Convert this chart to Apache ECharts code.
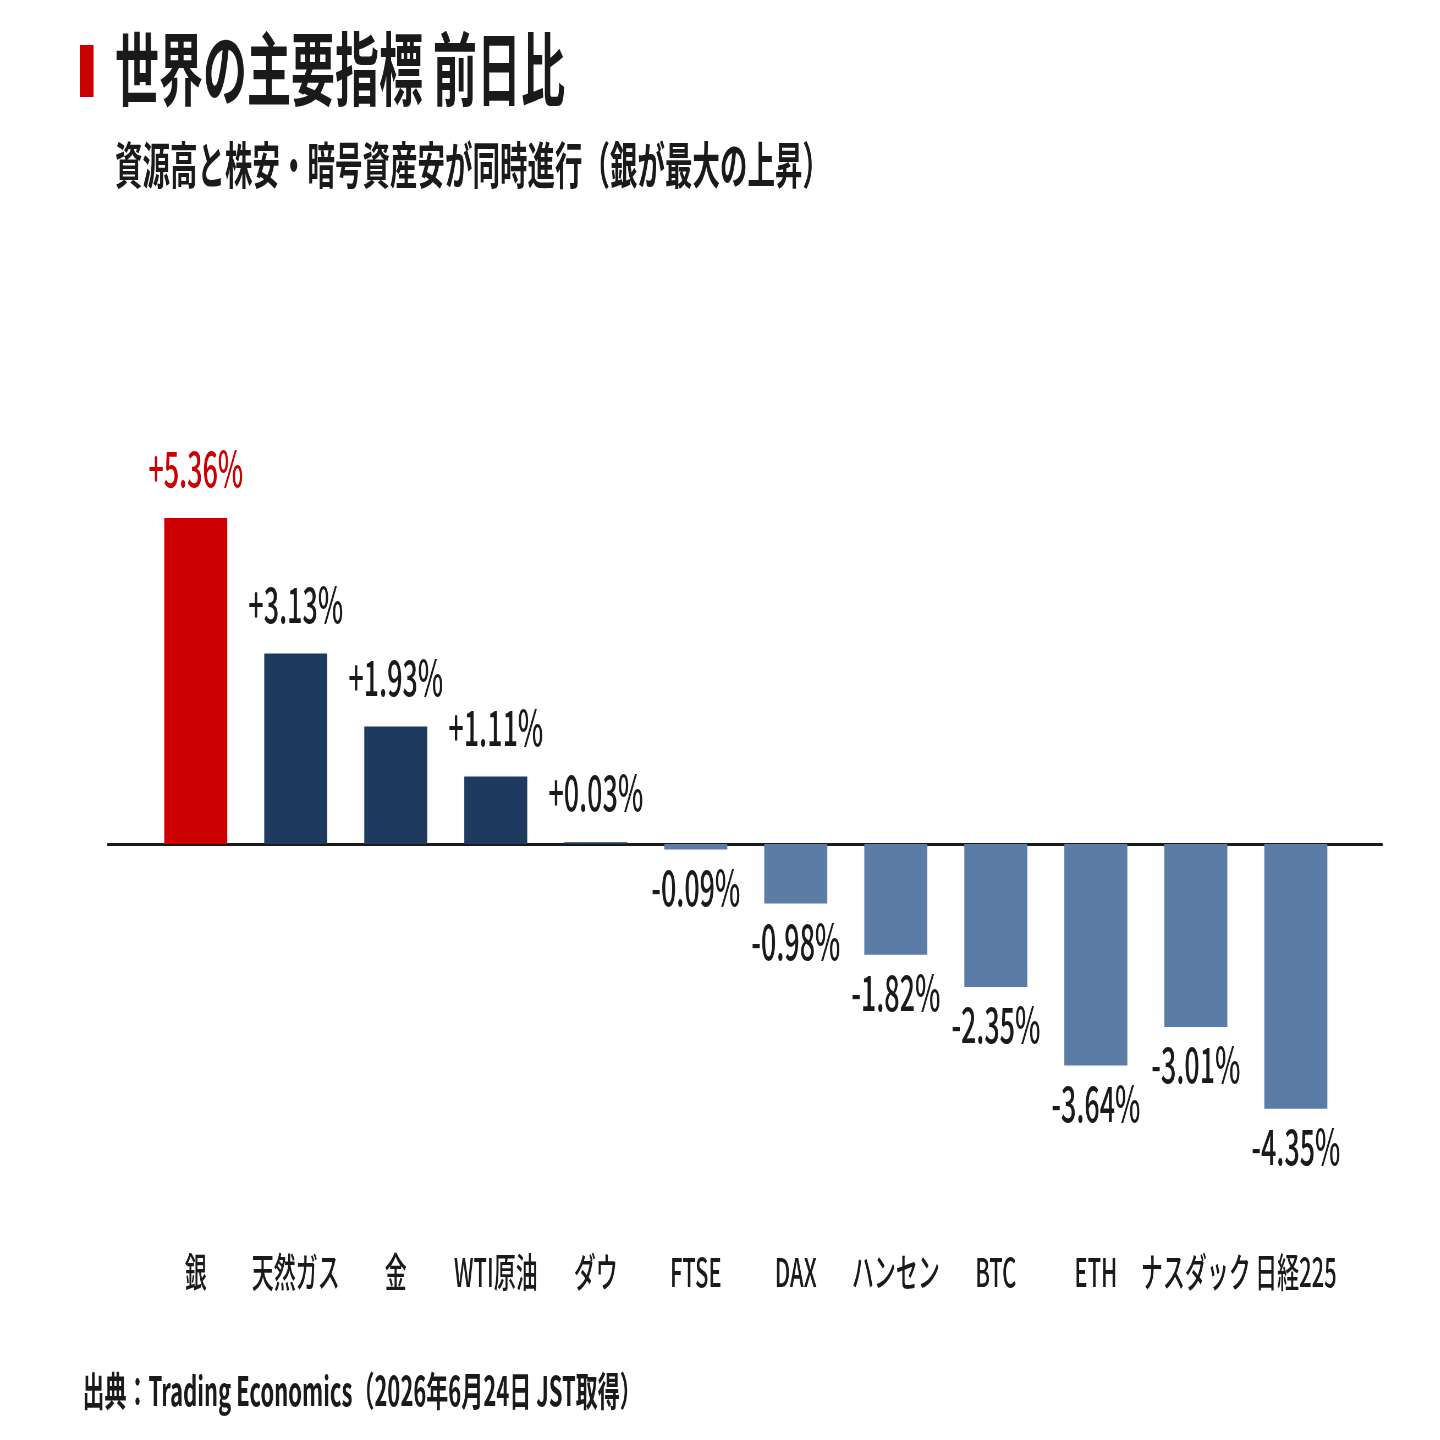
<!DOCTYPE html>
<html>
<head>
<meta charset="utf-8">
<script src="https://cdn.jsdelivr.net/npm/echarts@6/dist/echarts.min.js"></script>
<style>
  html, body { margin: 0; padding: 0; background: #fff; overflow: hidden; }
  /* the reference uses a condensed face, so the chart is laid out wide and squeezed */
  #chart {
    width: 2618px;
    height: 1440px;
    transform: scaleX(0.55);
    transform-origin: 0 0;
  }
</style>
</head>
<body>
<div id="chart"></div>
<script>
const categories = ['銀', '天然ガス', '金', 'WTI原油', 'ダウ', 'FTSE', 'DAX', 'ハンセン', 'BTC', 'ETH', 'ナスダック', '日経225']
const changes = [5.36, 3.13, 1.93, 1.11, 0.03, -0.09, -0.98, -1.82, -2.35, -3.64, -3.01, -4.35]
const highlightIndex = 0

const RED = '#cc0000'
const NAVY = '#1f3a5f'
const STEEL = '#5a7ca6'
const INK = '#1a1a1a'
const FONT = '"Noto Sans CJK JP", "Noto Sans", sans-serif'

const barData = changes.map((v, i) => {
  const color = i === highlightIndex ? RED : v >= 0 ? NAVY : STEEL
  return {
    value: v,
    itemStyle: { color },
    label: {
      position: v >= 0 ? 'top' : 'bottom',
      distance: v >= 0 ? 25 : 13,
      color: i === highlightIndex ? RED : INK,
    },
  }
})

const myChart = echarts.init(document.getElementById('chart'))
myChart.setOption({
  animation: false,
  textStyle: { fontFamily: FONT },
  title: [
    {
      text: '世界の主要指標 前日比',
      left: 204,
      top: 24,
      textStyle: { fontSize: 80, fontWeight: 'bold', color: INK, fontFamily: FONT },
    },
    {
      text: '資源高と株安・暗号資産安が同時進行（銀が最大の上昇）',
      left: 204,
      top: 135,
      textStyle: { fontSize: 50, fontWeight: 'bold', color: INK, fontFamily: FONT },
    },
    {
      text: '出典：Trading Economics（2026年6月24日 JST取得）',
      left: 145,
      top: 1366,
      textStyle: { fontSize: 40, fontWeight: 'bold', color: INK, fontFamily: FONT },
    },
  ],
  graphic: [
    {
      type: 'rect',
      left: 145,
      top: 45,
      shape: { width: 25, height: 52 },
      style: { fill: RED },
    },
  ],
  grid: [
    { left: 265, right: 171, top: 479, height: 730 },
    { left: 196, right: 105, top: 479, height: 365 },
  ],
  xAxis: [
    {
      type: 'category',
      data: categories,
      gridIndex: 0,
      axisLine: { show: false, onZero: false },
      axisTick: { show: false },
      axisLabel: {
        margin: 43,
        fontSize: 40,
        fontWeight: 500,
        color: INK,
        fontFamily: FONT,
        interval: 0,
      },
    },
    {
      type: 'category',
      data: [],
      gridIndex: 1,
      axisLine: { show: true, onZero: false, lineStyle: { color: INK, width: 3 } },
      axisTick: { show: false },
      axisLabel: { show: false },
    },
  ],
  yAxis: [
    { type: 'value', gridIndex: 0, min: -6, max: 6, show: false },
    { type: 'value', gridIndex: 1, min: 0, max: 6, show: false },
  ],
  series: [
    {
      type: 'bar',
      xAxisIndex: 0,
      yAxisIndex: 0,
      barWidth: '63%',
      data: barData,
      label: {
        show: true,
        fontSize: 49,
        fontWeight: 500,
        fontFamily: FONT,
        formatter: p => (p.value > 0 ? '+' : '') + p.value.toFixed(2) + '%',
      },
    },
  ],
})
</script>
</body>
</html>
